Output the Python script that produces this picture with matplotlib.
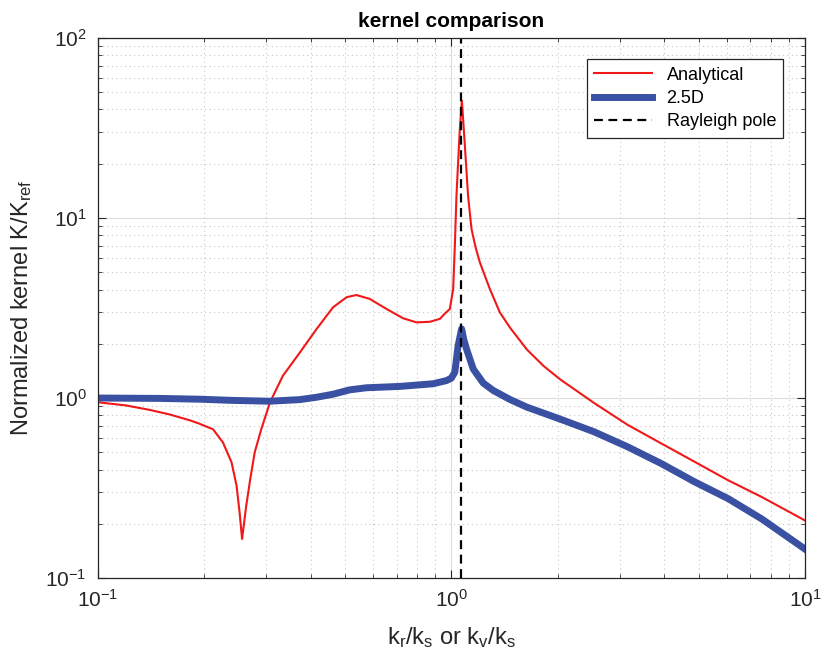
import matplotlib
matplotlib.use('Agg')
import matplotlib.pyplot as plt
import numpy as np
from matplotlib.ticker import LogLocator, NullFormatter

plt.rcParams['font.family'] = ['Liberation Sans', 'DejaVu Sans']
plt.rcParams['mathtext.fontset'] = 'custom'
plt.rcParams['mathtext.rm'] = 'Liberation Sans'
plt.rcParams['mathtext.it'] = 'Liberation Sans'
plt.rcParams['axes.unicode_minus'] = False

# values
x_analytical = [0.100, 0.1035, 0.120, 0.140, 0.160, 0.183, 0.194, 0.212, 0.226, 0.239,
                0.247, 0.252, 0.256, 0.263, 0.270, 0.278, 0.290, 0.307, 0.334, 0.373,
                0.416, 0.463, 0.506, 0.539, 0.588, 0.656, 0.731, 0.797, 0.869, 0.928,
                0.960, 0.990, 1.012, 1.023, 1.034, 1.045, 1.057, 1.071, 1.092, 1.115,
                1.140, 1.170, 1.204, 1.285, 1.371, 1.467, 1.635, 1.824, 2.03, 2.53,
                3.15, 3.92, 4.88, 6.07, 7.55, 10.0]
y_analytical = [0.95, 0.94, 0.91, 0.86, 0.81, 0.75, 0.72, 0.67, 0.567, 0.44,
                0.326, 0.23, 0.165, 0.252, 0.355, 0.50, 0.67, 0.946, 1.33, 1.79,
                2.42, 3.19, 3.63, 3.73, 3.55, 3.12, 2.77, 2.63, 2.65, 2.75,
                2.95, 3.12, 4.03, 7.0, 13.3, 20.4, 31.2, 44.8, 25.2, 13.3,
                8.7, 6.9, 5.66, 4.03, 2.99, 2.45, 1.86, 1.505, 1.27, 0.94,
                0.71, 0.56, 0.442, 0.349, 0.282, 0.209]

x_25d = [0.100, 0.150, 0.194, 0.241, 0.307, 0.373, 0.416, 0.463, 0.516, 0.575,
         0.715, 0.888, 0.969, 1.000, 1.023, 1.045, 1.069, 1.085, 1.104, 1.153,
         1.231, 1.315, 1.467, 1.635, 2.03, 2.53, 3.15, 3.92, 4.88, 6.07,
         7.55, 10.0]
y_25d = [1.0, 0.995, 0.985, 0.97, 0.96, 0.98, 1.01, 1.05, 1.11, 1.14,
         1.16, 1.20, 1.25, 1.29, 1.39, 1.95, 2.42, 2.1, 1.87, 1.45,
         1.21, 1.10, 0.98, 0.89, 0.764, 0.65, 0.536, 0.433, 0.342, 0.276,
         0.213, 0.145]

rayleigh_pole = 1.066


def main():
    fig = plt.figure(figsize=(8.21, 6.63), dpi=100)
    ax = fig.add_axes([0.119, 0.128, 0.8615, 0.815])

    ax.loglog(x_analytical, y_analytical, color='#f01818', lw=1.5, label='Analytical')
    ax.loglog(x_25d, y_25d, color='#3a51a3', lw=5, label='2.5D')
    ax.axvline(rayleigh_pole, color='black', ls='--', dashes=(4, 2.5), lw=1.6,
               label='Rayleigh pole')

    ax.set_xlim(0.1, 10)
    ax.set_ylim(0.1, 100)

    ax.xaxis.set_major_locator(LogLocator(base=10, numticks=10))
    ax.yaxis.set_major_locator(LogLocator(base=10, numticks=10))
    ax.xaxis.set_minor_locator(LogLocator(base=10, subs=np.arange(2, 10), numticks=20))
    ax.yaxis.set_minor_locator(LogLocator(base=10, subs=np.arange(2, 10), numticks=20))
    ax.xaxis.set_minor_formatter(NullFormatter())
    ax.yaxis.set_minor_formatter(NullFormatter())

    ax.grid(True, which='major', color='#dcdcdc', lw=0.8, ls='-')
    ax.grid(True, which='minor', color='#c8c8c8', lw=0.8, ls=(0, (1, 3)))
    ax.set_axisbelow(True)

    ax.tick_params(which='both', direction='in', top=True, right=True, colors='#262626')
    ax.tick_params(which='major', length=6, labelsize=15, pad=8)
    ax.tick_params(which='minor', length=3)
    for s in ax.spines.values():
        s.set_color('#262626')
        s.set_linewidth(0.9)

    ax.set_xlabel(r'k$_\mathregular{r}$/k$_\mathregular{s}$ or k$_\mathregular{v}$/k$_\mathregular{s}$',
                  fontsize=17, color='#262626', labelpad=10)
    ax.set_ylabel(r'Normalized kernel K/K$_\mathregular{ref}$', fontsize=17, color='#262626', labelpad=8)
    ax.set_title('kernel comparison', fontsize=15, fontweight='bold', pad=8)

    leg = ax.legend(loc='upper right', fontsize=13, fancybox=False, framealpha=1,
                    edgecolor='#262626', borderaxespad=1.2, handlelength=3.2,
                    labelspacing=0.35, borderpad=0.4)
    leg.get_frame().set_linewidth(0.9)

    fig.savefig('out.png', dpi=100)


if __name__ == '__main__':
    main()
